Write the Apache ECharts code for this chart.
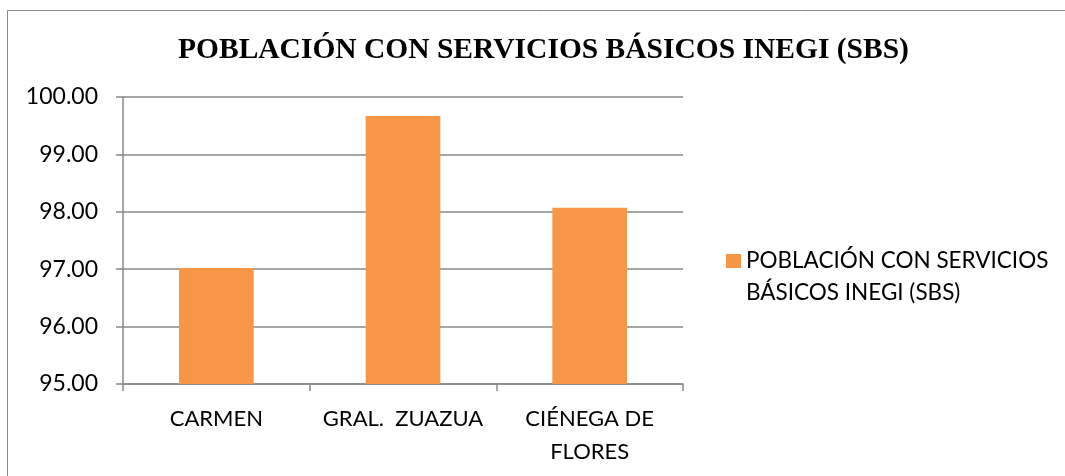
<!DOCTYPE html>
<html>
<head>
<meta charset="utf-8">
<script src="https://cdn.jsdelivr.net/npm/echarts@6/dist/echarts.min.js"></script>
<style>
  html, body { margin: 0; padding: 0; background: #fff; }
  #main { width: 1065px; height: 476px; }
</style>
</head>
<body>
<div id="main"></div>
<script>
var categories = ['CARMEN', 'GRAL.  ZUAZUA', 'CIÉNEGA DE\nFLORES'];
var sbsValues = [97.02, 99.67, 98.07];
var seriesName = 'POBLACIÓN CON SERVICIOS BÁSICOS INEGI (SBS)';
var yTicks = { min: 95, max: 100, step: 1 };

var chart = echarts.init(document.getElementById('main'));
var gray = '#898989';
var option = {
  animation: false,
  backgroundColor: '#fff',
  graphic: [{
    type: 'rect',
    shape: { x: 7.5, y: 10.5, width: 1100, height: 500 },
    style: { fill: 'none', stroke: gray, lineWidth: 1 }
  }],
  title: {
    text: seriesName,
    left: 173,
    top: 30,
    textStyle: {
      fontFamily: '"Liberation Serif", "Times New Roman", serif',
      fontWeight: 'bold',
      fontSize: 29.5,
      color: '#000'
    }
  },
  grid: { left: 123, right: 382, top: 97, bottom: 92, containLabel: false },
  legend: {
    orient: 'vertical',
    left: 721,
    top: 240,
    itemWidth: 15,
    itemHeight: 46,
    // square at the top of the icon box so it lines up with the first text line
    icon: 'path://M0,0h15v14h-15zM14.99,45.99h0.01v0.01h-0.01z',
    formatter: function () { return 'POBLACIÓN CON SERVICIOS\nBÁSICOS INEGI (SBS)'; },
    textStyle: {
      fontFamily: 'Lato, sans-serif',
      fontSize: 22.5,
      lineHeight: 32,
      color: '#000'
    }
  },
  xAxis: {
    type: 'category',
    data: categories,
    axisLine: { lineStyle: { color: gray, width: 1.5 } },
    axisTick: { show: true, length: 7, lineStyle: { color: gray, width: 1.5 } },
    axisLabel: {
      interval: 0,
      margin: 18,
      fontFamily: 'Lato, sans-serif',
      fontSize: 22,
      lineHeight: 33,
      color: '#000'
    }
  },
  yAxis: {
    type: 'value',
    min: yTicks.min,
    max: yTicks.max,
    interval: yTicks.step,
    axisLine: { show: true, lineStyle: { color: gray, width: 1.5 } },
    axisTick: { show: true, length: 7, lineStyle: { color: gray, width: 1.5 } },
    splitLine: { lineStyle: { color: gray, width: 1.5 } },
    axisLabel: {
      margin: 25,
      fontFamily: 'Lato, sans-serif',
      fontSize: 23,
      color: '#000',
      formatter: function (v) { return v.toFixed(2); }
    }
  },
  series: [{
    name: seriesName,
    type: 'bar',
    data: sbsValues,
    barWidth: '40%',
    itemStyle: { color: '#F79646' }
  }]
};
chart.setOption(option);
window.addEventListener('resize', function () { chart.resize(); });
</script>
</body>
</html>
